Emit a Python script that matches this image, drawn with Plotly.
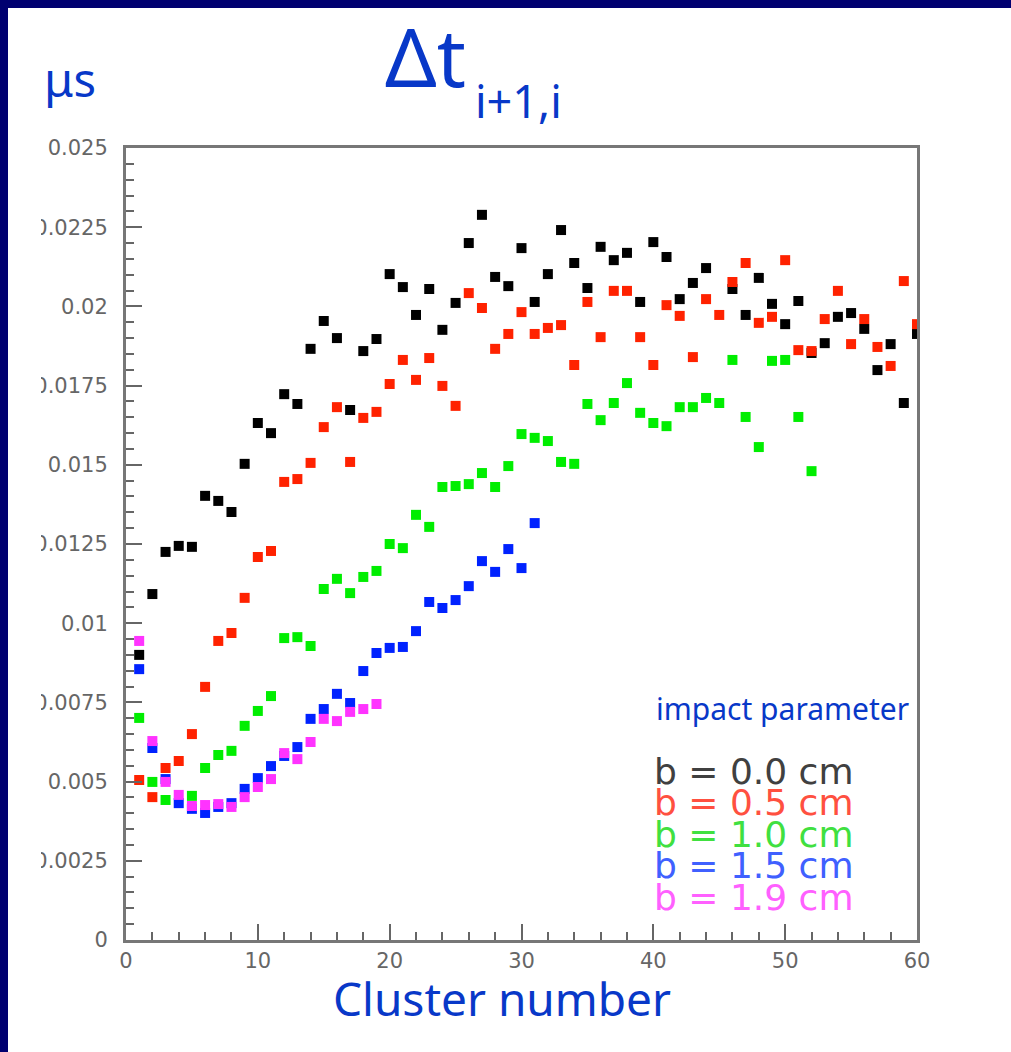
import plotly.graph_objects as go

# Cluster index along the track
cluster = list(range(1, 61))

# Time difference between consecutive clusters (microseconds), one list per impact parameter
dt_b00 = [0.00900, 0.01092, 0.01225, 0.01244, 0.01241, 0.01402, 0.01386, 0.01351, 0.01503, 0.01632,
          0.01600, 0.01723, 0.01692, 0.01866, 0.01954, 0.01900, 0.01673, 0.01859, 0.01897, 0.02102,
          0.02061, 0.01973, 0.02055, 0.01926, 0.02011, 0.02200, 0.02289, 0.02093, 0.02064, 0.02184,
          0.02014, 0.02102, 0.02241, 0.02137, 0.02058, 0.02188, 0.02146, 0.02169, 0.02014, 0.02203,
          0.02156, 0.02023, 0.02074, 0.02121, None, 0.02055, 0.01973, 0.02090, 0.02008, 0.01944,
          0.02017, 0.01853, 0.01884, 0.01967, 0.01979, 0.01929, 0.01799, 0.01881, 0.01695, 0.01913]
dt_b05 = [0.00505, 0.00451, 0.00543, 0.00565, 0.00650, 0.00799, 0.00944, 0.00969, 0.01080, 0.01209,
          0.01228, 0.01446, 0.01455, 0.01506, 0.01619, 0.01682, 0.01509, 0.01648, 0.01667, 0.01755,
          0.01831, 0.01768, 0.01837, 0.01749, 0.01686, 0.02042, 0.01995, 0.01866, 0.01913, 0.01982,
          0.01913, 0.01932, 0.01941, 0.01815, 0.02014, 0.01903, 0.02049, 0.02049, 0.01903, 0.01815,
          0.02004, 0.01970, 0.01840, 0.02023, 0.01973, 0.02077, 0.02137, 0.01948, 0.01967, 0.02146,
          0.01862, 0.01859, 0.01960, 0.02049, 0.01881, 0.01960, 0.01872, 0.01812, 0.02080, 0.01944]
dt_b10 = [0.00701, 0.00499, 0.00442, None, 0.00455, 0.00543, 0.00584, 0.00597, 0.00676, 0.00723,
          0.00770, 0.00953, 0.00956, 0.00928, 0.01108, 0.01140, 0.01095, 0.01146, 0.01165, 0.01250,
          0.01237, 0.01342, 0.01304, 0.01430, 0.01433, 0.01439, 0.01474, 0.01430, 0.01496, 0.01597,
          0.01585, 0.01575, 0.01509, 0.01503, 0.01692, 0.01641, 0.01695, 0.01758, 0.01664, 0.01632,
          0.01622, 0.01682, 0.01682, 0.01711, 0.01695, 0.01831, 0.01651, 0.01556, 0.01828, 0.01831,
          0.01651, 0.01480]
dt_b15 = [0.00855, 0.00606, 0.00508, 0.00432, 0.00414, 0.00401, 0.00420, 0.00432, 0.00477, 0.00511,
          0.00549, 0.00581, 0.00609, 0.00698, 0.00729, 0.00777, 0.00748, 0.00849, 0.00906, 0.00922,
          0.00925, 0.00975, 0.01067, 0.01048, 0.01073, 0.01117, 0.01196, 0.01162, 0.01234, 0.01174,
          0.01316]
dt_b19 = [0.00944, 0.00628, 0.00499, 0.00458, 0.00423, 0.00426, 0.00429, 0.00420, 0.00451, 0.00483,
          0.00508, 0.00590, 0.00571, 0.00625, 0.00698, 0.00691, 0.00720, 0.00729, 0.00745]

series_labels = ["b = 0.0 cm", "b = 0.5 cm", "b = 1.0 cm", "b = 1.5 cm", "b = 1.9 cm"]
marker_colors = ["#000000", "#ff2200", "#00ee00", "#0022ff", "#ff33ff"]
label_colors = ["#404040", "#ff5040", "#40e040", "#4060ff", "#ff60ff"]

y_tickvals = [0, 0.0025, 0.005, 0.0075, 0.01, 0.0125, 0.015, 0.0175, 0.02, 0.0225, 0.025]
y_ticktext = ["0", "0.0025", "0.005", "0.0075", "0.01", "0.0125", "0.015", "0.0175", "0.02", "0.0225", "0.025"]

W, H = 1011, 1052
ML, MR, MT, MB = 126, 94, 148, 112
PW, PH = W - ML - MR, H - MT - MB
NAVY = "#000070"
BLUE = "#0838c8"


def fx(p):
    """pixel column -> paper x"""
    return (p - ML) / PW


def fy(p):
    """pixel row -> paper y"""
    return (H - MB - p) / PH


fig = go.Figure()
all_series = [dt_b00, dt_b05, dt_b10, dt_b15, dt_b19]
for vals, name, col in zip(all_series, series_labels, marker_colors):
    fig.add_trace(go.Scatter(
        x=cluster[:len(vals)], y=vals, mode="markers", name=name,
        marker=dict(symbol="square", size=10, color=col, line=dict(width=0)),
        showlegend=False,
    ))

axis_common = dict(
    showgrid=False, zeroline=False, showline=True, linecolor="#777777", linewidth=3,
    mirror=True, ticks="inside", tickcolor="#666666", tickwidth=2, ticklen=16,
    tickfont=dict(family="DejaVu Sans", size=21, color="#666666"),
)
fig.update_xaxes(range=[0, 60], tick0=0, dtick=10, ticklabelstandoff=0,
                 minor=dict(ticks="inside", dtick=2, ticklen=8, tickcolor="#666666", tickwidth=2),
                 **axis_common)
fig.update_yaxes(range=[0, 0.025], tickvals=y_tickvals, ticktext=y_ticktext, ticklabelstandoff=11,
                 minor=dict(ticks="inside", dtick=0.0005, tick0=0, ticklen=8, tickcolor="#666666", tickwidth=2),
                 **axis_common)

shapes = [
    # white page behind everything on the right-hand edge
    dict(type="rect", xref="paper", yref="paper", x0=fx(990), x1=fx(W + 20), y0=fy(H + 20), y1=fy(8),
         fillcolor="#ffffff", line=dict(width=0), layer="above"),
    # frame strips
    dict(type="rect", xref="paper", yref="paper", x0=fx(0), x1=fx(W), y0=fy(8), y1=fy(0),
         fillcolor=NAVY, line=dict(width=0), layer="above"),
    dict(type="rect", xref="paper", yref="paper", x0=fx(0), x1=fx(8), y0=fy(H), y1=fy(0),
         fillcolor=NAVY, line=dict(width=0), layer="above"),
    # margin strip that trims the long tick labels on the left
    dict(type="rect", xref="paper", yref="paper", x0=fx(8), x1=fx(41), y0=fy(H), y1=fy(8),
         fillcolor="#ffffff", line=dict(width=0), layer="above"),
]

annotations = [
    dict(text="Δt", x=fx(383), y=fy(113), xanchor="left", yanchor="bottom",
         font=dict(family="Noto Sans", size=81, color=BLUE)),
    dict(text="i+1,i", x=fx(473), y=fy(133), xanchor="left", yanchor="bottom",
         font=dict(family="Noto Sans", size=45, color=BLUE)),
    dict(text="μs", x=fx(42), y=fy(79), xanchor="left", yanchor="middle",
         font=dict(family="Noto Sans", size=47, color=BLUE)),
    dict(text="Cluster number", x=fx(502), y=fy(998), xanchor="center", yanchor="middle",
         font=dict(family="Noto Sans", size=46, color=BLUE)),
    dict(text="impact parameter", x=fx(911), y=fy(708), xanchor="right", yanchor="middle",
         font=dict(family="Noto Sans", size=30, color=BLUE)),
]
for i, (name, col) in enumerate(zip(series_labels, label_colors)):
    annotations.append(dict(text=name, x=fx(652), y=fy(771 + 31.5 * i), xanchor="left", yanchor="middle",
                            font=dict(family="DejaVu Sans", size=36, color=col)))
for a in annotations:
    a.update(xref="paper", yref="paper", showarrow=False)

fig.update_layout(
    width=W, height=H,
    margin=dict(l=ML, r=MR, t=MT, b=MB, pad=0),
    paper_bgcolor="#ffffff", plot_bgcolor="#ffffff",
    shapes=shapes, annotations=annotations,
)

# keep the page itself from scrolling
fig.write_html("out.html", post_script="document.body.style.overflow='hidden';")
